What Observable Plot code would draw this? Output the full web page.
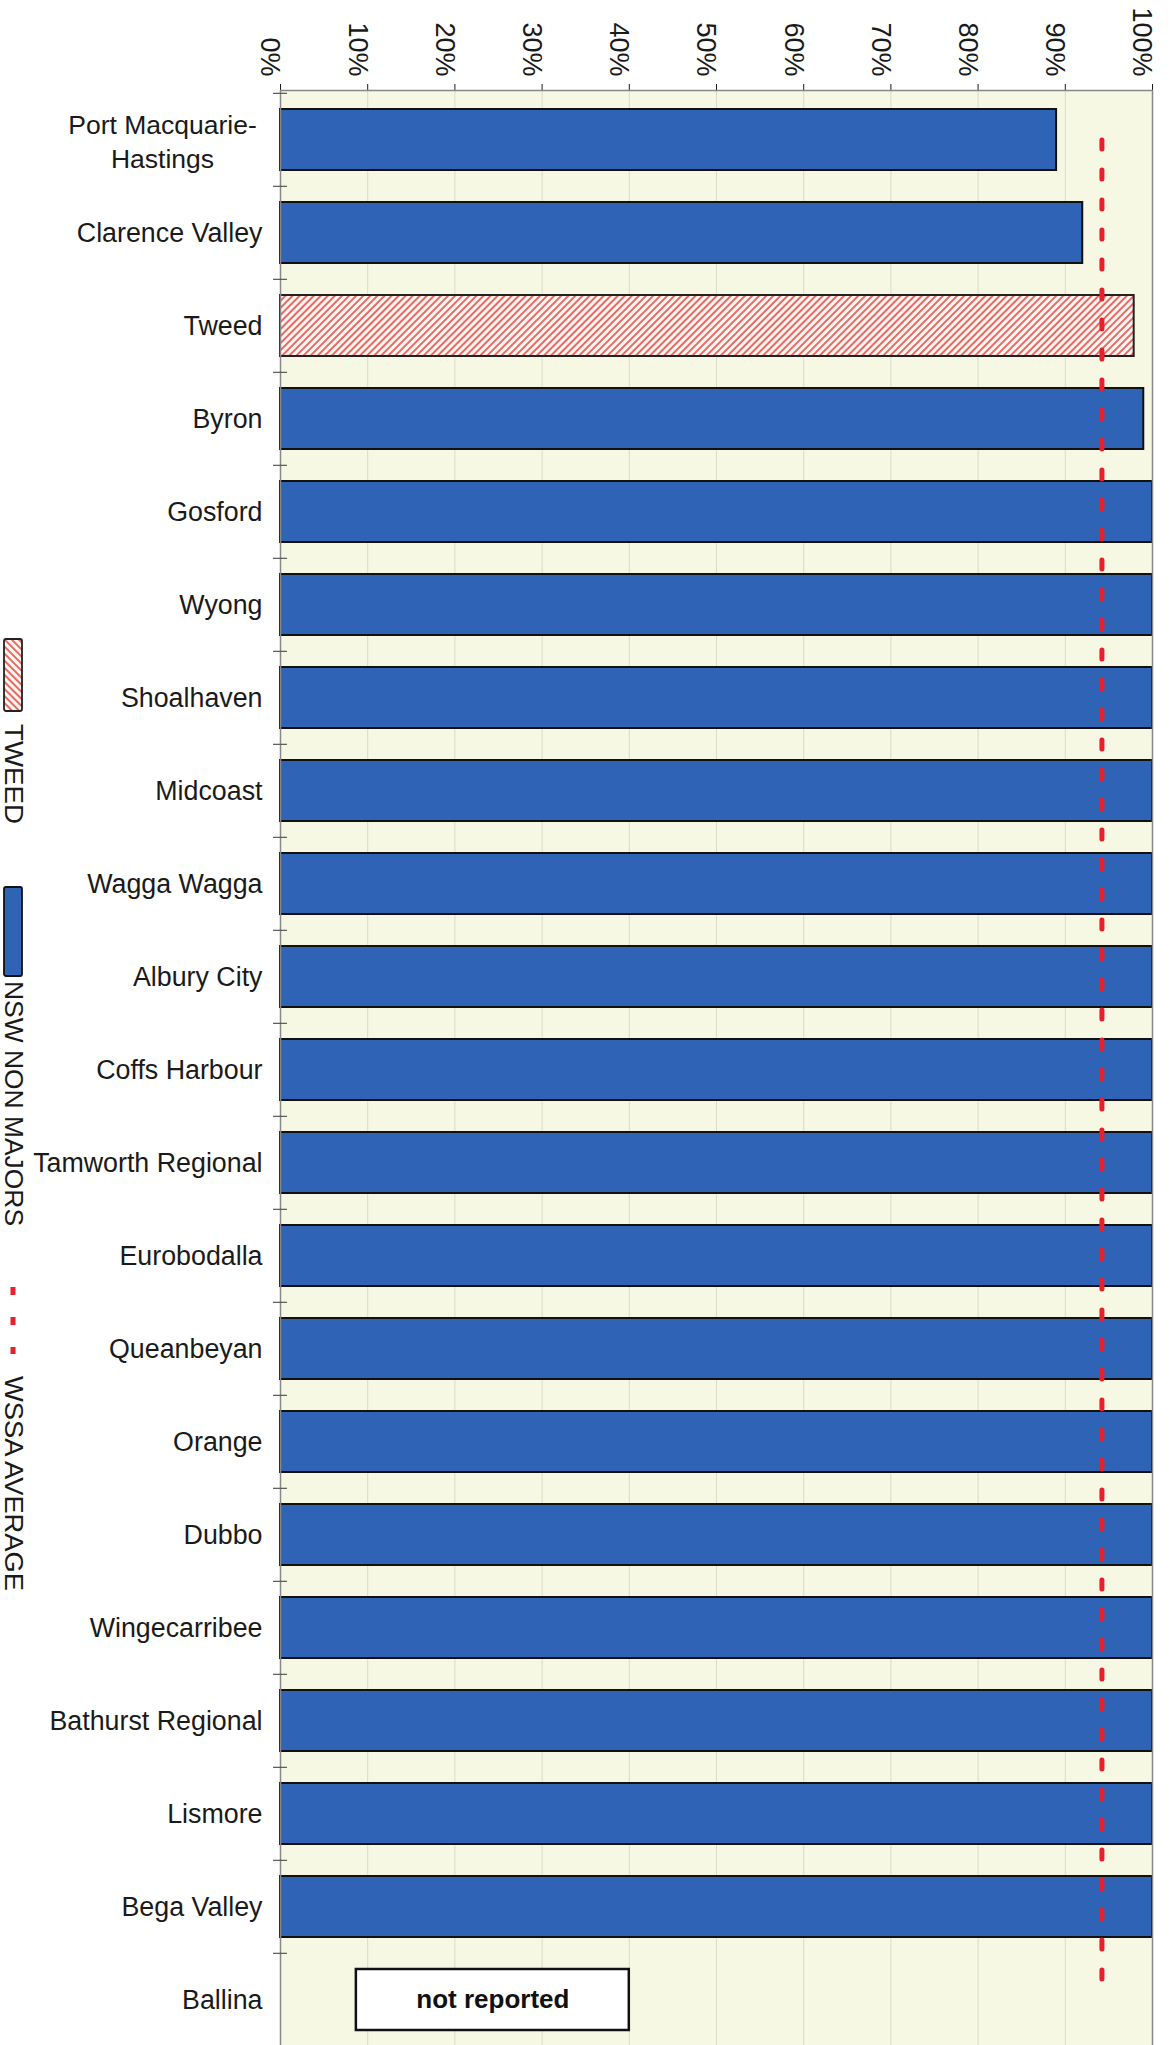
<!DOCTYPE html>
<html><head><meta charset="utf-8">
<script src="https://cdn.jsdelivr.net/npm/d3@7"></script>
<script src="https://cdn.jsdelivr.net/npm/@observablehq/plot@0.6"></script>
<style>
html,body{margin:0;padding:0;background:#fff;}
#wrap{position:relative;width:1174px;height:2045px;overflow:hidden;font-family:"Liberation Sans",Arial,sans-serif;}
#legend{position:absolute;left:0;top:0;}
</style></head><body><div id="wrap"></div>
<script>
// ---- data ----
const councils = ["Port Macquarie-Hastings","Clarence Valley","Tweed","Byron","Gosford","Wyong","Shoalhaven","Midcoast","Wagga Wagga","Albury City","Coffs Harbour","Tamworth Regional","Eurobodalla","Queanbeyan","Orange","Dubbo","Wingecarribee","Bathurst Regional","Lismore","Bega Valley","Ballina"];
const coverage = [89.0, 92.0, 97.9, 99.0, 100, 100, 100, 100, 100, 100, 100, 100, 100, 100, 100, 100, 100, 100, 100, 100, null];
const groups = ["NSW NON MAJORS","NSW NON MAJORS","TWEED","NSW NON MAJORS","NSW NON MAJORS","NSW NON MAJORS","NSW NON MAJORS","NSW NON MAJORS","NSW NON MAJORS","NSW NON MAJORS","NSW NON MAJORS","NSW NON MAJORS","NSW NON MAJORS","NSW NON MAJORS","NSW NON MAJORS","NSW NON MAJORS","NSW NON MAJORS","NSW NON MAJORS","NSW NON MAJORS","NSW NON MAJORS","NSW NON MAJORS"];
const wssaAverage = 94.2;
const xTicks = [0,10,20,30,40,50,60,70,80,90,100];
const notReportedCouncil = "Ballina";
const notReportedSpan = [8.7, 40];
const legendItems = ["TWEED","NSW NON MAJORS","WSSA AVERAGE"];

// ---- build ----
const rows = councils.map((c,i)=>({council:c, value:coverage[i], group:groups[i]}));
const reported = rows.filter(d=>d.value!=null);
const blueRows = reported.filter(d=>d.group!=="TWEED");
const tweedRows = reported.filter(d=>d.group==="TWEED");
const multiLine = councils.filter(c=>c.includes("-"));
const singleLine = councils.filter(c=>!c.includes("-"));

const W=1174, H=2050, mT=90, mB=0, mL=280, mR=22;
const step = (H-mT-mB)/councils.length;
const BLUE="#2f63b6", RED="#e8202a";

const plot = Plot.plot({
  width:W, height:H, marginTop:mT, marginBottom:mB, marginLeft:mL, marginRight:mR,
  style:{fontFamily:"'Liberation Sans',Arial,sans-serif", fontSize:"26px", color:"#1a1a1a", background:"transparent", overflow:"visible"},
  x:{domain:[0,100], axis:"top", ticks:xTicks, tickFormat:()=>"", tickSize:7, label:null},
  y:{domain:councils, axis:null, paddingInner:0.34, paddingOuter:0.17},
  marks:[
    Plot.frame({fill:"#f6f8e4", stroke:null}),
    Plot.ruleX(xTicks.filter(t=>t>0&&t<100), {stroke:"#d9dbcc", strokeWidth:1}),
    Plot.barX(blueRows, {y:"council", x1:0, x2:"value", fill:BLUE, stroke:"#111", strokeWidth:2}),
    Plot.barX(tweedRows, {y:"council", x1:0, x2:"value", fill:"url(#hatch)", stroke:"#222", strokeWidth:2}),
    Plot.barX([notReportedCouncil], {y:d=>d, x1:notReportedSpan[0], x2:notReportedSpan[1], fill:"white", stroke:"#111", strokeWidth:2.5}),
    Plot.text([notReportedCouncil], {y:d=>d, x:(notReportedSpan[0]+notReportedSpan[1])/2, text:()=>"not reported", fontWeight:"bold", fontSize:26, fill:"#111"}),
    Plot.line([councils[0], councils[councils.length-1]], {y:d=>d, x:()=>wssaAverage, stroke:RED, strokeWidth:5, strokeDasharray:"9,21"}),
    Plot.frame({stroke:"#888", strokeWidth:1.5}),
    Plot.ruleY(councils, {y:d=>d, x1:-0.8, x2:0.8, dy:-step/2, stroke:"#555", strokeWidth:1.2, clip:false}),
    Plot.text(singleLine, {y:d=>d, frameAnchor:"left", dx:-18, textAnchor:"end", text:d=>d, fontSize:26.8, fill:"#1a1a1a"}),
    Plot.text(multiLine, {y:d=>d, frameAnchor:"left", dx:-118, textAnchor:"middle", text:d=>d.replace("-","-\n"), lineHeight:1.27, fontSize:26.5, fill:"#1a1a1a"}),
    Plot.text(xTicks, {x:d=>d, frameAnchor:"top", dy:-14, rotate:90, textAnchor:"end", text:d=>d+"%", fontSize:27, fill:"#1a1a1a"})
  ]
});

d3.select(plot).insert("defs",":first-child").html(
  `<pattern id="hatch" patternUnits="userSpaceOnUse" width="5" height="5" patternTransform="rotate(45)">
     <rect width="5" height="5" fill="#fff6f4"/><line x1="1" y1="0" x2="1" y2="5" stroke="#e0483e" stroke-width="1.6"/></pattern>`);

const wrap = document.getElementById("wrap");
wrap.appendChild(plot);

// ---- legend (rotated, left side) ----
const lg = d3.select(wrap).append("svg").attr("id","legend").attr("width",40).attr("height",2045);
lg.append("defs").html(
  `<pattern id="hatchL" patternUnits="userSpaceOnUse" width="5" height="5" patternTransform="rotate(-45)">
     <rect width="5" height="5" fill="#fff6f4"/><line x1="1" y1="0" x2="1" y2="5" stroke="#e0483e" stroke-width="1.6"/></pattern>`);
const legendLayout = [
  {sw:[639,711], text:[724,100]},
  {sw:[887,976], text:[981,245]},
  {sw:[1287,1354], text:[1376,215]}
];
legendItems.forEach((name,i)=>{
  const L = legendLayout[i];
  if(i===0) lg.append("rect").attr("x",4).attr("y",L.sw[0]).attr("width",18).attr("height",L.sw[1]-L.sw[0]).attr("fill","url(#hatchL)").attr("stroke","#222").attr("stroke-width",1.8).attr("rx",2);
  else if(i===1) lg.append("rect").attr("x",4).attr("y",L.sw[0]).attr("width",18).attr("height",L.sw[1]-L.sw[0]).attr("fill",BLUE).attr("stroke","#111").attr("stroke-width",1.8).attr("rx",2);
  else lg.append("line").attr("x1",13).attr("x2",13).attr("y1",L.sw[0]).attr("y2",L.sw[1]).attr("stroke",RED).attr("stroke-width",5).attr("stroke-dasharray","8,22");
  lg.append("text").attr("transform",`translate(14,${L.text[0]}) rotate(90)`)
    .attr("dominant-baseline","central").attr("font-size",25).attr("fill","#1a1a1a")
    .attr("font-family","'Liberation Sans',Arial,sans-serif")
    .attr("textLength",L.text[1]).attr("lengthAdjust","spacingAndGlyphs").text(name);
});
</script></body></html>
